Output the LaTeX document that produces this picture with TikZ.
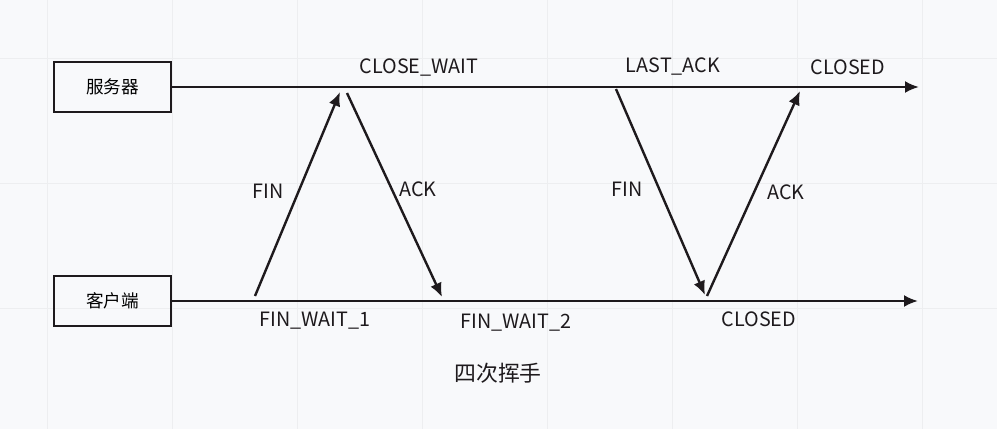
\documentclass[tikz,border=0pt]{standalone}
\usepackage{fontspec}
\setmainfont{Noto Sans CJK SC}
\usetikzlibrary{arrows.meta}
\definecolor{ink}{HTML}{1E1A1D}
\definecolor{bg}{HTML}{F8F9FB}
\definecolor{gridc}{HTML}{EDEEF0}
\tikzset{
  proc/.style={draw=ink, line width=1.8pt, minimum width=117*0.75pt, minimum height=50*0.75pt, inner sep=0pt, font=\fontsize{13.2pt}{15pt}\selectfont},
  msg/.style={draw=ink, line width=1.8pt, -{Latex[length=10.5pt,width=9pt]}},
  lbl/.style={font=\fontsize{14.8pt}{17pt}\selectfont, text=ink, inner sep=0pt},
}
\begin{document}
\begin{tikzpicture}[x=0.75pt,y=-0.75pt]
\fill[bg] (0,0) rectangle (997,429);
\useasboundingbox (0,0) rectangle (997,429);
\foreach \gx in {47,172,297,422,547,672,797,922} \draw[gridc, line width=0.6pt] (\gx,0) -- (\gx,429);
\foreach \gy in {58,183,308} \draw[gridc, line width=0.6pt] (0,\gy) -- (997,\gy);

\node[proc] (srv) at (112.5,87) {服务器};
\node[proc] (cli) at (112.5,301) {客户端};
\coordinate (srvend) at (919,87);
\coordinate (cliend) at (918,301);
\draw[msg] (srv.east) -- (srvend);
\draw[msg] (cli.east) -- (cliend);

\coordinate (a1) at (255,296);
\coordinate (a2) at (340,92);
\coordinate (b1) at (347,93);
\coordinate (b2) at (442,297);
\coordinate (c1) at (616,89);
\coordinate (c2) at (705,295);
\coordinate (d1) at (707,296);
\coordinate (d2) at (800,91);
\draw[msg] (a1) -- (a2);
\draw[msg] (b1) -- (b2);
\draw[msg] (c1) -- (c2);
\draw[msg] (d1) -- (d2);

\node[lbl] (lcw) at (419,68) {CLOSE\_WAIT};
\node[lbl] (lla) at (673,67) {LAST\_ACK};
\node[lbl] (lcs) at (848,67) {CLOSED};
\node[lbl] (f1) at (268,191) {FIN};
\node[lbl] (k1) at (418,189) {ACK};
\node[lbl] (f2) at (627,189) {FIN};
\node[lbl] (k2) at (786,192) {ACK};
\node[lbl] (w1) at (315,321) {FIN\_WAIT\_1};
\node[lbl] (w2) at (516,323) {FIN\_WAIT\_2};
\node[lbl] (lcc) at (759,319) {CLOSED};
\node[lbl, font=\fontsize{16.4pt}{19pt}\selectfont] (title) at (498,373) {四次挥手};
\end{tikzpicture}
\end{document}
